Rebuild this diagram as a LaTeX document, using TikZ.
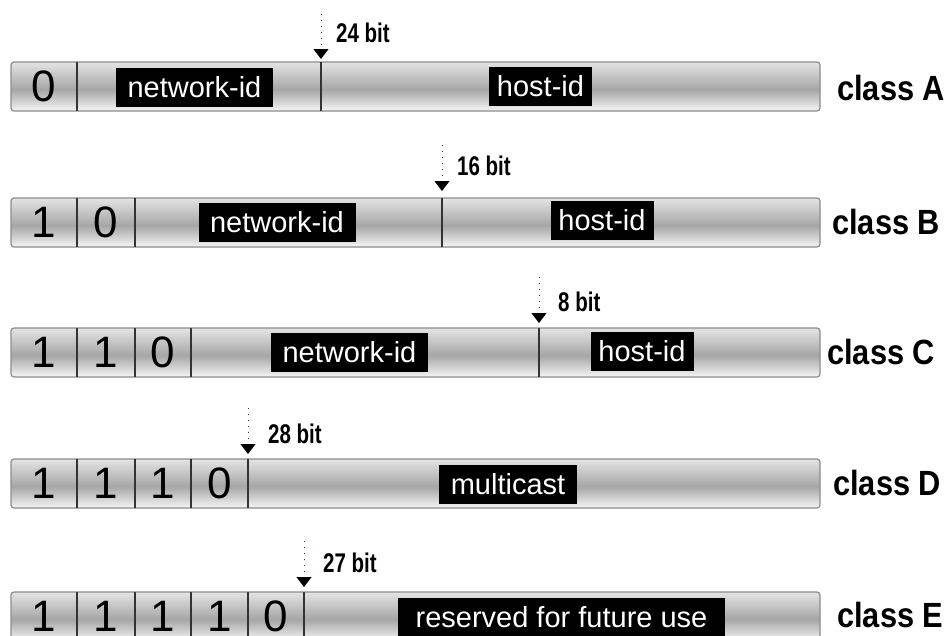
\documentclass[tikz,border=0pt]{standalone}
\usepackage{fontspec}
\setmainfont{Liberation Sans}
\newfontfamily\narrowsans[FakeStretch=0.76]{Liberation Sans}
\newfontfamily\classsans[FakeStretch=0.88]{Liberation Sans}
\usetikzlibrary{arrows.meta}

\definecolor{barhi}{HTML}{E4E4E4}
\definecolor{barmid}{HTML}{A6A6A6}
\definecolor{barlo}{HTML}{F6F6F6}
\definecolor{dotblue}{HTML}{2A2A9A}
\pgfdeclareverticalshading{barshade}{100bp}{color(0bp)=(barlo); color(25bp)=(barlo); color(47bp)=(barmid); color(75bp)=(barhi); color(100bp)=(barhi)}

\tikzset{
  bar/.style={draw=black!45, line width=1.2pt, rounded corners=3pt, shading=barshade, minimum width=809pt, minimum height=49pt, inner sep=0pt},
  cellline/.style={draw=black!80, line width=1.1pt},
  digit/.style={inner sep=0pt, font=\fontsize{44}{44}\selectfont},
  idbox/.style={fill=black, text=white, inner sep=0pt, minimum height=39pt, font=\fontsize{29}{29}\selectfont},
  classlbl/.style={anchor=west, inner sep=0pt, font=\classsans\bfseries\fontsize{35}{35}\selectfont},
  bitlbl/.style={anchor=west, inner sep=0pt, font=\narrowsans\bfseries\fontsize{27}{27}\selectfont},
  bitarrow/.style={draw=dotblue, line width=1pt, dash pattern=on 1pt off 5pt, -{Triangle[color=black, width=15pt, length=10pt]}}
}

\begin{document}
\begin{tikzpicture}[x=1pt,y=-1pt]
\clip (0,0) rectangle (952,635);
\fill[white] (0,0) rectangle (952,635);

\node (barA) at (415.5,86.5) [bar] {};
\draw[cellline] (77,62) -- (77,111);
\draw[cellline] (321,62) -- (321,111);
\node (dA1) at (44,86.5) [digit] {0};
\node (netA) at (194.5,87) [idbox, minimum width=157pt] {network-id};
\node (hostA) at (540.5,86) [idbox, minimum width=103pt] {host-id};
\node (clsA) at (837,88) [classlbl] {class A};
\coordinate (topA) at (321,14);
\coordinate (tipA) at (321,59);
\draw[bitarrow] (topA) -- (tipA);
\node (bitsA) at (336,33) [bitlbl] {24 bit};

\node (barB) at (415.5,222.5) [bar] {};
\draw[cellline] (77,198) -- (77,247);
\draw[cellline] (135,198) -- (135,247);
\draw[cellline] (442,198) -- (442,247);
\node (dB1) at (44,222.5) [digit] {1};
\node (dB2) at (106,222.5) [digit] {0};
\node (netB) at (277,222.5) [idbox, minimum width=157pt] {network-id};
\node (hostB) at (602,220.5) [idbox, minimum width=103pt] {host-id};
\node (clsB) at (832,222) [classlbl] {class B};
\coordinate (topB) at (442,145);
\coordinate (tipB) at (442,191);
\draw[bitarrow] (topB) -- (tipB);
\node (bitsB) at (457,166) [bitlbl] {16 bit};

\node (barC) at (415.5,352.5) [bar] {};
\draw[cellline] (77,328) -- (77,377);
\draw[cellline] (135,328) -- (135,377);
\draw[cellline] (191,328) -- (191,377);
\draw[cellline] (539,328) -- (539,377);
\node (dC1) at (44,352.5) [digit] {1};
\node (dC2) at (106,352.5) [digit] {1};
\node (dC3) at (163,352.5) [digit] {0};
\node (netC) at (349.5,352) [idbox, minimum width=157pt] {network-id};
\node (hostC) at (642,351.5) [idbox, minimum width=103pt] {host-id};
\node (clsC) at (827,352) [classlbl] {class C};
\coordinate (topC) at (539,277);
\coordinate (tipC) at (539,323);
\draw[bitarrow] (topC) -- (tipC);
\node (bitsC) at (558,302) [bitlbl] {8 bit};

\node (barD) at (415.5,483.5) [bar] {};
\draw[cellline] (77,459) -- (77,508);
\draw[cellline] (135,459) -- (135,508);
\draw[cellline] (191,459) -- (191,508);
\draw[cellline] (248,459) -- (248,508);
\node (dD1) at (44,483.5) [digit] {1};
\node (dD2) at (106,483.5) [digit] {1};
\node (dD3) at (163,483.5) [digit] {1};
\node (dD4) at (219.5,483.5) [digit] {0};
\node (mcD) at (508,484.5) [idbox, minimum width=138pt] {multicast};
\node (clsD) at (833,483) [classlbl] {class D};
\coordinate (topD) at (248,408);
\coordinate (tipD) at (248,454);
\draw[bitarrow] (topD) -- (tipD);
\node (bitsD) at (268,434) [bitlbl] {28 bit};

\node (barE) at (415.5,616.5) [bar] {};
\draw[cellline] (77,592) -- (77,641);
\draw[cellline] (135,592) -- (135,641);
\draw[cellline] (191,592) -- (191,641);
\draw[cellline] (248,592) -- (248,641);
\draw[cellline] (304,592) -- (304,641);
\node (dE1) at (44,616.5) [digit] {1};
\node (dE2) at (106,616.5) [digit] {1};
\node (dE3) at (163,616.5) [digit] {1};
\node (dE4) at (219.5,616.5) [digit] {1};
\node (dE5) at (276,616.5) [digit] {0};
\node (resE) at (561.5,617) [idbox, minimum width=327pt] {reserved for future use};
\node (clsE) at (837,615) [classlbl] {class E};
\coordinate (topE) at (304,541);
\coordinate (tipE) at (304,587);
\draw[bitarrow] (topE) -- (tipE);
\node (bitsE) at (323,563) [bitlbl] {27 bit};
\end{tikzpicture}
\end{document}
